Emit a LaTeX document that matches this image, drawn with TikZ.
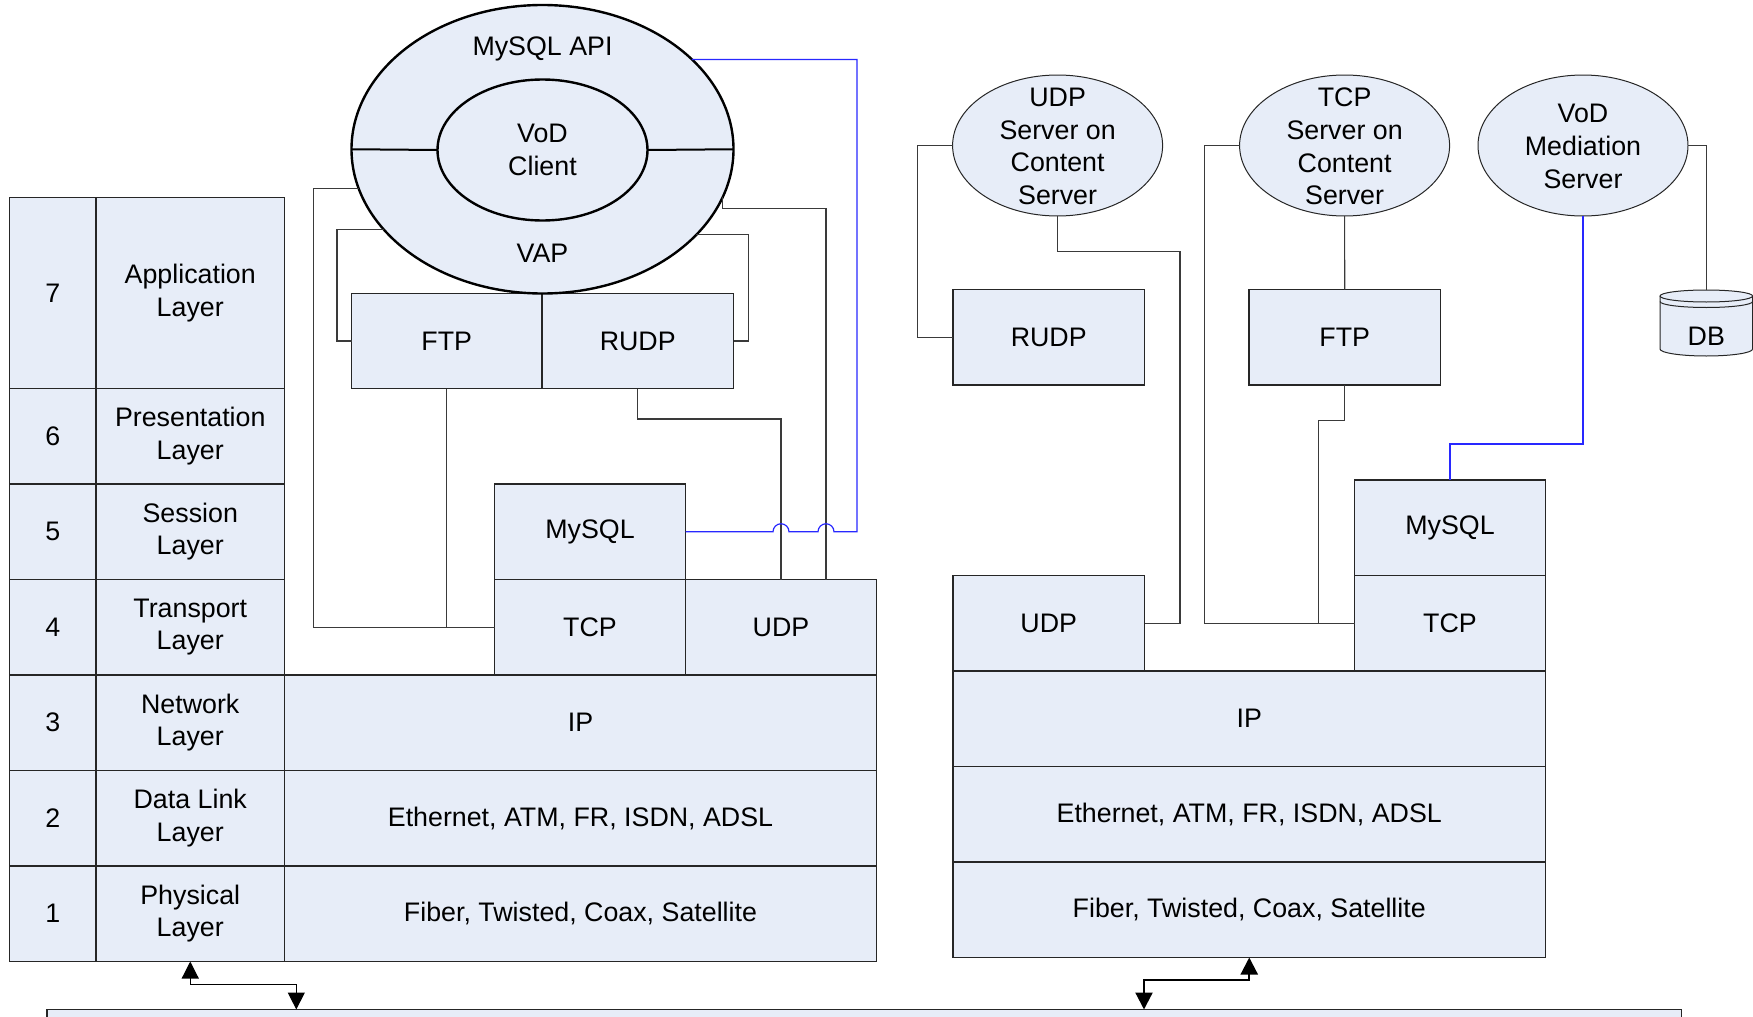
\documentclass[tikz,border=0pt]{standalone}
\usepackage{fontspec}
\setmainfont{Liberation Sans}
\usetikzlibrary{arrows.meta,shapes.geometric}
\definecolor{fillb}{HTML}{E7EDF8}
\definecolor{lnk}{HTML}{3A3A3A}
\definecolor{bl}{HTML}{2828FF}
\begin{document}
\begin{tikzpicture}[x=0.5pt,y=-0.5pt,
  every node/.style={font=\fontsize{13.4pt}{16.3pt}\selectfont, align=center, inner sep=0pt, outer sep=0pt},
  box/.style={draw=black!85, fill=fillb, line width=0.65pt, rectangle},
  numcol/.style={box, minimum width=43.25pt, minimum height=47.75pt},
  namecol/.style={box, minimum width=94.25pt, minimum height=47.75pt},
  wide/.style={box, minimum width=296pt, minimum height=47.75pt},
  proto/.style={box, minimum width=95.5pt, minimum height=47.75pt},
  srv/.style={draw=black!85, fill=fillb, line width=0.5pt, ellipse, minimum width=105pt, minimum height=70.5pt},
  link/.style={draw=lnk, line width=0.55pt},
  blink/.style={draw=bl, line width=0.6pt},
  arr/.style={line width=0.6pt, {Triangle[length=8.5pt,width=8.5pt]}-{Triangle[length=8.5pt,width=8.5pt]}}
]
\useasboundingbox (0,0) rectangle (1753,1017);

% ---------- left OSI stack ----------
\node[numcol, minimum height=95.5pt] (n7) at (52.75,293) {7};
\node[namecol, minimum height=95.5pt] (l7) at (190.25,293) {Application\\Layer};
\node[numcol] (n6) at (52.75,436.25) {6};
\node[namecol] (l6) at (190.25,436.25) {Presentation\\Layer};
\node[numcol] (n5) at (52.75,531.75) {5};
\node[namecol] (l5) at (190.25,531.75) {Session\\Layer};
\node[numcol] (n4) at (52.75,627.25) {4};
\node[namecol] (l4) at (190.25,627.25) {Transport\\Layer};
\node[numcol] (n3) at (52.75,722.75) {3};
\node[namecol] (l3) at (190.25,722.75) {Network\\Layer};
\node[numcol] (n2) at (52.75,818.25) {2};
\node[namecol] (l2) at (190.25,818.25) {Data Link\\Layer};
\node[numcol] (n1) at (52.75,913.75) {1};
\node[namecol] (l1) at (190.25,913.75) {Physical\\Layer};

\node[wide] (ipL) at (580.5,722.75) {IP};
\node[wide] (ethL) at (580.5,818.25) {Ethernet, ATM, FR, ISDN, ADSL};
\node[wide] (phyL) at (580.5,913.75) {Fiber, Twisted, Coax, Satellite};

\node[proto, minimum width=95.25pt, minimum height=47.5pt] (ftpL) at (446.75,341) {FTP};
\node[proto, minimum width=95.75pt, minimum height=47.5pt] (rudpL) at (637.75,341) {RUDP};
\node[proto] (mysqlL) at (590,531.75) {MySQL};
\node[proto] (tcpL) at (590,627.25) {TCP};
\node[proto] (udpL) at (781,627.25) {UDP};

% ---------- client ellipses ----------
\node[ellipse, draw=black, fill=fillb, line width=1.2pt, minimum width=191pt, minimum height=144.25pt] (vap) at (542.5,149.25) {};
\draw[black, line width=1pt] (vap.west) -- (437.5,150);
\draw[black, line width=1pt] (vap.east) -- (647.5,150);
\node[ellipse, draw=black, fill=fillb, line width=1.2pt, minimum width=105pt, minimum height=70.5pt] (client) at (542.5,150) {VoD\\Client};
\node (api) at (542.5,48.5) {MySQL API};
\node (vapt) at (542.5,253.5) {VAP};

% ---------- left connectors ----------
\coordinate (k1) at (313.3,627.25);
\draw[link] (vap.192.5) -| (k1) -- (tcpL.west);
\draw[link] (ftpL.south) |- (tcpL.west);
\coordinate (k3) at (337,341);
\draw[link] (vap.207.7) -| (k3) -- (ftpL.west);
\coordinate (k4) at (748.6,341);
\draw[link] (vap.331.6) -| (k4) -- (rudpL.east);
\coordinate (k5) at (826,208.5);
\draw[link] (vap.345) |- (k5) -- (k5 |- udpL.north);
\draw[link] (rudpL.south) -- ++(0,30.5) -| (udpL.north);
\draw[blink] (mysqlL.east) -- (773,531.75) arc[start angle=180,end angle=360,radius=8]
  -- (818,531.75) arc[start angle=180,end angle=360,radius=8]
  -- (857,531.75) |- (vap.31.8);

% ---------- right stack ----------
\node[proto, minimum width=95.75pt] (rudpR) at (1048.75,337.25) {RUDP};
\node[proto, minimum width=95.75pt] (ftpR) at (1344.75,337.25) {FTP};
\node[proto, minimum width=95.75pt] (udpR) at (1048.75,623.25) {UDP};
\node[proto] (mysqlR) at (1450,527.75) {MySQL};
\node[proto] (tcpR) at (1450,623.25) {TCP};
\node[wide, minimum width=296.25pt] (ipR) at (1249.25,718.75) {IP};
\node[wide, minimum width=296.25pt] (ethR) at (1249.25,814.25) {Ethernet, ATM, FR, ISDN, ADSL};
\node[wide, minimum width=296.25pt] (phyR) at (1249.25,909.75) {Fiber, Twisted, Coax, Satellite};

\node[srv] (udpSrv) at (1057.6,145.5) {};
\node (udpSrvT) at ([yshift=-0.5pt]udpSrv.center) {UDP\\Server on\\Content\\Server};
\node[srv] (tcpSrv) at (1344.6,145.5) {};
\node (tcpSrvT) at ([yshift=-0.5pt]tcpSrv.center) {TCP\\Server on\\Content\\Server};
\node[srv] (medSrv) at (1583,145.5) {};
\node (medSrvT) at ([yshift=-0.5pt]medSrv.center) {VoD\\Mediation\\Server};

% DB cylinder
\fill[fillb] (1660,296) -- (1660,349) arc[start angle=180,end angle=0,x radius=46.3,y radius=7]
  -- (1752.6,296) arc[start angle=360,end angle=180,x radius=46.3,y radius=6] -- cycle;
\draw[black!85, line width=0.5pt] (1660,296) -- (1660,349) arc[start angle=180,end angle=0,x radius=46.3,y radius=7] -- (1752.6,296);
\draw[black!85, line width=0.5pt] (1706.3,296) ellipse[x radius=46.3, y radius=6];
\draw[black!85, line width=0.5pt] (1660,301.5) arc[start angle=180,end angle=0,x radius=46.3,y radius=6];
\node[minimum width=92pt, minimum height=46pt] (db) at (1706.3,336) {DB};

% ---------- right connectors ----------
\draw[link] (udpSrv.west) -- ++(-35.4,0) |- (rudpR.west);
\coordinate (k7) at (1180,251.7);
\draw[link] (udpSrv.south) |- (k7) |- (udpR.east);
\draw[link] (tcpSrv.west) -- ++(-35.3,0) |- (tcpR.west);
\draw[link] (tcpSrv.south) -- (ftpR.north);
\coordinate (k8) at (1318.8,623.25);
\draw[link] (ftpR.south) -- ++(0,35.3) -| (k8) -- (tcpR.west);
\draw[blink] (mysqlR.north) -- ++(0,-36) -| (medSrv.south);
\draw[link] (medSrv.east) -| (db.north);

% ---------- bottom network bar ----------
\node[box, minimum width=817.25pt, minimum height=20pt] (net) at (864.25,1029.5) {};
\coordinate (bL) at (296.3,1009.5);
\coordinate (bR) at (1144,1009.5);
\draw[arr] (l1.south) -- ++(0,23) -| (bL);
\draw[arr, line width=1.1pt] (phyR.south) -- ++(0,22.5) -| (bR);
\end{tikzpicture}
\end{document}
